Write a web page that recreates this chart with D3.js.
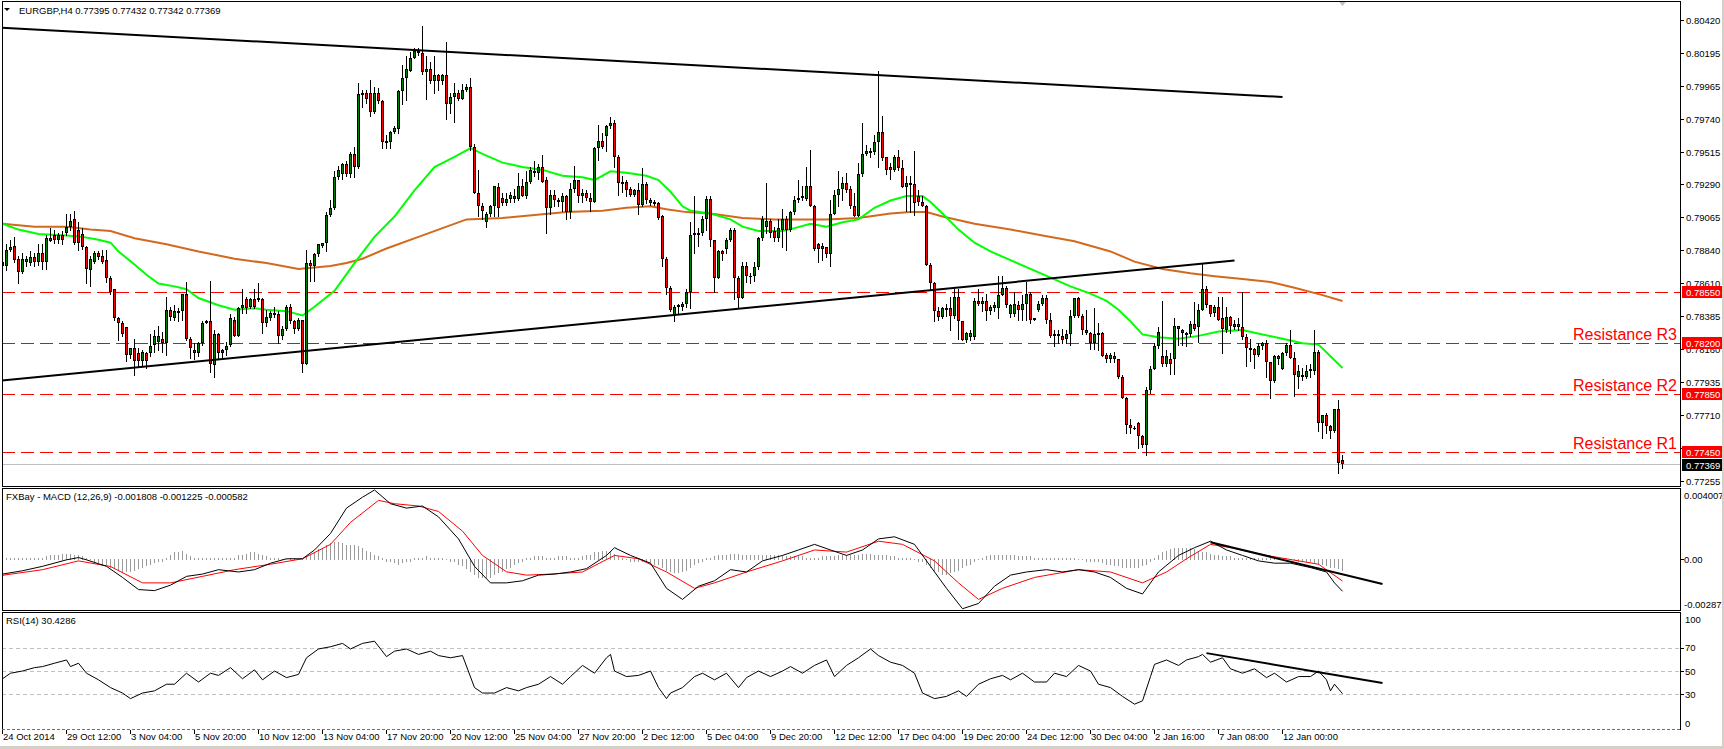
<!DOCTYPE html>
<html><head><meta charset="utf-8">
<script src="https://cdn.jsdelivr.net/npm/d3@7"></script>
<style>
body{margin:0;background:#fff;overflow:hidden}
svg{display:block}
text{font-family:"Liberation Sans",Arial,sans-serif}
</style>
</head><body>
<svg id="chart" width="1724" height="749"></svg>
<script>
// ---------------- DATA ----------------
const symbolTitle = "EURGBP,H4  0.77395 0.77432 0.77342 0.77369";
const macdTitle = "FXBay - MACD (12,26,9) -0.001808 -0.001225 -0.000582";
const rsiTitle = "RSI(14) 30.4286";

// H4 candles [open, high, low, close], bar 0 = 24 Oct 2014
const ohlc = [
[0.7876,0.7884,0.7870,0.7873],[0.7873,0.7888,0.7870,0.7884],[0.7884,0.7891,0.7883,0.7886],[0.7887,0.7893,0.7876,0.7877],
[0.7878,0.7880,0.7861,0.7869],[0.7869,0.7882,0.7868,0.7878],[0.7876,0.7880,0.7873,0.7878],[0.7875,0.7883,0.7874,0.7879],
[0.7879,0.7882,0.7873,0.7876],[0.7876,0.7888,0.7874,0.7882],[0.7882,0.7888,0.7871,0.7876],[0.7876,0.7894,0.7871,0.7892],
[0.7890,0.7899,0.7890,0.7892],[0.7894,0.7898,0.7889,0.7891],[0.7891,0.7896,0.7889,0.7894],[0.7894,0.7897,0.7888,0.7891],
[0.7896,0.7909,0.7894,0.7900],[0.7900,0.7909,0.7898,0.7904],[0.7905,0.7911,0.7888,0.7889],[0.7898,0.7903,0.7884,0.7889],
[0.7895,0.7899,0.7885,0.7886],[0.7886,0.7887,0.7861,0.7871],[0.7870,0.7880,0.7859,0.7878],[0.7876,0.7883,0.7875,0.7882],
[0.7882,0.7883,0.7878,0.7879],[0.7880,0.7884,0.7875,0.7876],[0.7877,0.7884,0.7862,0.7865],[0.7865,0.7866,0.7854,0.7855],
[0.7857,0.7857,0.7836,0.7837],[0.7837,0.7838,0.7822,0.7834],[0.7834,0.7835,0.7825,0.7826],[0.7831,0.7831,0.7808,0.7812],
[0.7812,0.7817,0.7810,0.7817],[0.7817,0.7823,0.7798,0.7808],[0.7813,0.7817,0.7804,0.7808],[0.7808,0.7815,0.7805,0.7814],
[0.7813,0.7814,0.7803,0.7808],[0.7813,0.7826,0.7811,0.7818],[0.7819,0.7829,0.7814,0.7825],[0.7821,0.7832,0.7815,0.7825],
[0.7823,0.7828,0.7814,0.7820],[0.7820,0.7852,0.7812,0.7843],[0.7843,0.7845,0.7836,0.7838],[0.7837,0.7846,0.7836,0.7842],
[0.7841,0.7844,0.7835,0.7842],[0.7842,0.7854,0.7836,0.7854],[0.7854,0.7862,0.7822,0.7823],[0.7823,0.7824,0.7810,0.7817],
[0.7815,0.7820,0.7809,0.7813],[0.7813,0.7821,0.7811,0.7820],[0.7820,0.7835,0.7819,0.7834],[0.7834,0.7836,0.7834,0.7835],
[0.7835,0.7863,0.7800,0.7806],[0.7805,0.7829,0.7797,0.7826],[0.7826,0.7827,0.7810,0.7813],[0.7813,0.7816,0.7810,0.7815],
[0.7815,0.7821,0.7812,0.7818],[0.7819,0.7840,0.7818,0.7837],[0.7836,0.7838,0.7825,0.7825],[0.7825,0.7845,0.7825,0.7844],
[0.7844,0.7857,0.7841,0.7846],[0.7850,0.7852,0.7841,0.7844],[0.7845,0.7851,0.7844,0.7850],[0.7850,0.7857,0.7844,0.7845],
[0.7850,0.7861,0.7849,0.7851],[0.7850,0.7851,0.7827,0.7834],[0.7834,0.7843,0.7832,0.7838],[0.7837,0.7842,0.7836,0.7841],
[0.7840,0.7845,0.7838,0.7841],[0.7840,0.7842,0.7820,0.7825],[0.7825,0.7832,0.7823,0.7830],[0.7830,0.7846,0.7829,0.7845],
[0.7845,0.7847,0.7834,0.7835],[0.7835,0.7836,0.7827,0.7830],[0.7830,0.7837,0.7829,0.7836],[0.7836,0.7836,0.7800,0.7806],
[0.7806,0.7884,0.7806,0.7875],[0.7875,0.7877,0.7863,0.7873],[0.7873,0.7882,0.7863,0.7881],[0.7881,0.7888,0.7880,0.7888],
[0.7887,0.7889,0.7886,0.7889],[0.7889,0.7910,0.7883,0.7908],[0.7908,0.7918,0.7907,0.7913],[0.7913,0.7938,0.7912,0.7934],
[0.7934,0.7942,0.7933,0.7939],[0.7936,0.7944,0.7933,0.7943],[0.7943,0.7945,0.7935,0.7936],[0.7936,0.7951,0.7934,0.7950],
[0.7950,0.7955,0.7934,0.7941],[0.7941,0.7999,0.7940,0.7991],[0.7991,0.7994,0.7982,0.7992],[0.7992,0.7994,0.7985,0.7988],
[0.7992,0.8001,0.7976,0.7979],[0.7979,0.7996,0.7978,0.7992],[0.7992,0.7995,0.7985,0.7986],[0.7986,0.7987,0.7954,0.7958],
[0.7959,0.7963,0.7954,0.7958],[0.7958,0.7966,0.7954,0.7965],[0.7965,0.7969,0.7964,0.7968],[0.7967,0.7994,0.7964,0.7993],
[0.7993,0.8011,0.7984,0.8002],[0.8002,0.8017,0.7987,0.8008],[0.8007,0.8020,0.8007,0.8016],[0.8016,0.8023,0.8016,0.8021],
[0.8019,0.8023,0.8018,0.8021],[0.8019,0.8038,0.8005,0.8006],[0.8006,0.8017,0.7988,0.8008],[0.8008,0.8013,0.7999,0.8000],
[0.8000,0.8017,0.7992,0.8004],[0.8004,0.8005,0.7994,0.8000],[0.8000,0.8005,0.7998,0.8004],[0.8004,0.8027,0.7974,0.7984],
[0.7984,0.7992,0.7978,0.7989],[0.7989,0.7999,0.7972,0.7992],[0.7992,0.7994,0.7987,0.7988],[0.7988,0.7998,0.7988,0.7994],
[0.7994,0.7998,0.7993,0.7996],[0.7996,0.8002,0.7953,0.7955],[0.7955,0.7957,0.7923,0.7923],[0.7923,0.7939,0.7907,0.7914],
[0.7914,0.7916,0.7905,0.7911],[0.7903,0.7910,0.7900,0.7909],[0.7909,0.7915,0.7907,0.7914],[0.7914,0.7928,0.7907,0.7928],
[0.7927,0.7930,0.7907,0.7913],[0.7920,0.7923,0.7915,0.7916],[0.7916,0.7923,0.7915,0.7919],[0.7919,0.7924,0.7917,0.7922],
[0.7921,0.7926,0.7917,0.7919],[0.7919,0.7937,0.7918,0.7928],[0.7928,0.7933,0.7921,0.7921],[0.7921,0.7938,0.7920,0.7931],
[0.7931,0.7941,0.7930,0.7939],[0.7937,0.7945,0.7935,0.7938],[0.7937,0.7943,0.7933,0.7941],[0.7941,0.7949,0.7931,0.7931],
[0.7932,0.7934,0.7896,0.7913],[0.7913,0.7925,0.7909,0.7922],[0.7922,0.7925,0.7914,0.7918],[0.7918,0.7920,0.7914,0.7917],
[0.7917,0.7923,0.7911,0.7921],[0.7921,0.7922,0.7905,0.7910],[0.7910,0.7930,0.7906,0.7926],[0.7926,0.7942,0.7924,0.7932],
[0.7932,0.7932,0.7917,0.7921],[0.7921,0.7926,0.7917,0.7923],[0.7923,0.7925,0.7918,0.7920],[0.7920,0.7923,0.7911,0.7917],
[0.7917,0.7955,0.7917,0.7954],[0.7954,0.7970,0.7946,0.7959],[0.7959,0.7964,0.7954,0.7955],[0.7962,0.7970,0.7952,0.7969],
[0.7969,0.7975,0.7968,0.7971],[0.7971,0.7973,0.7941,0.7948],[0.7948,0.7949,0.7922,0.7930],[0.7931,0.7935,0.7924,0.7930],
[0.7931,0.7932,0.7921,0.7925],[0.7926,0.7927,0.7921,0.7922],[0.7922,0.7926,0.7921,0.7925],[0.7925,0.7930,0.7909,0.7915],
[0.7915,0.7940,0.7914,0.7929],[0.7929,0.7931,0.7916,0.7918],[0.7918,0.7920,0.7915,0.7916],[0.7917,0.7918,0.7915,0.7916],
[0.7916,0.7917,0.7905,0.7906],[0.7907,0.7908,0.7873,0.7878],[0.7878,0.7879,0.7854,0.7858],[0.7858,0.7859,0.7842,0.7843],
[0.7839,0.7846,0.7835,0.7845],[0.7845,0.7847,0.7841,0.7846],[0.7845,0.7848,0.7843,0.7847],[0.7847,0.7857,0.7845,0.7855],
[0.7855,0.7903,0.7844,0.7894],[0.7894,0.7921,0.7882,0.7896],[0.7894,0.7899,0.7887,0.7896],[0.7896,0.7907,0.7894,0.7905],
[0.7905,0.7921,0.7898,0.7919],[0.7919,0.7921,0.7887,0.7891],[0.7891,0.7891,0.7855,0.7865],[0.7865,0.7884,0.7865,0.7883],
[0.7883,0.7884,0.7877,0.7881],[0.7885,0.7892,0.7882,0.7891],[0.7891,0.7899,0.7890,0.7898],[0.7898,0.7899,0.7850,0.7865],
[0.7865,0.7866,0.7844,0.7851],[0.7851,0.7876,0.7851,0.7873],[0.7873,0.7876,0.7862,0.7866],[0.7866,0.7868,0.7861,0.7866],
[0.7866,0.7876,0.7863,0.7872],[0.7872,0.7893,0.7871,0.7892],[0.7892,0.7907,0.7891,0.7905],[0.7900,0.7930,0.7896,0.7904],
[0.7904,0.7905,0.7893,0.7896],[0.7897,0.7900,0.7890,0.7892],[0.7892,0.7905,0.7890,0.7899],[0.7898,0.7912,0.7886,0.7905],
[0.7905,0.7907,0.7884,0.7898],[0.7898,0.7911,0.7897,0.7910],[0.7910,0.7921,0.7909,0.7918],[0.7918,0.7932,0.7917,0.7920],
[0.7920,0.7928,0.7918,0.7921],[0.7919,0.7941,0.7918,0.7928],[0.7928,0.7953,0.7914,0.7914],[0.7914,0.7915,0.7884,0.7885],
[0.7888,0.7889,0.7876,0.7885],[0.7885,0.7889,0.7877,0.7887],[0.7886,0.7886,0.7879,0.7881],[0.7881,0.7918,0.7873,0.7909],
[0.7909,0.7925,0.7909,0.7922],[0.7922,0.7938,0.7914,0.7926],[0.7926,0.7934,0.7918,0.7930],[0.7930,0.7937,0.7924,0.7925],
[0.7926,0.7928,0.7913,0.7914],[0.7914,0.7923,0.7907,0.7907],[0.7907,0.7944,0.7907,0.7936],[0.7936,0.7971,0.7935,0.7950],
[0.7950,0.7956,0.7949,0.7952],[0.7951,0.7954,0.7948,0.7952],[0.7951,0.7963,0.7950,0.7958],[0.7958,0.8007,0.7941,0.7965],
[0.7965,0.7976,0.7946,0.7947],[0.7948,0.7948,0.7936,0.7939],[0.7941,0.7944,0.7933,0.7939],[0.7939,0.7949,0.7938,0.7948],
[0.7948,0.7953,0.7939,0.7940],[0.7940,0.7946,0.7927,0.7927],[0.7927,0.7935,0.7911,0.7930],[0.7930,0.7935,0.7910,0.7929],
[0.7929,0.7952,0.7908,0.7916],[0.7921,0.7925,0.7915,0.7917],[0.7917,0.7921,0.7914,0.7914],[0.7914,0.7915,0.7874,0.7874],
[0.7874,0.7875,0.7857,0.7861],[0.7861,0.7862,0.7835,0.7842],[0.7842,0.7845,0.7836,0.7838],[0.7838,0.7845,0.7837,0.7844],
[0.7843,0.7847,0.7839,0.7844],[0.7844,0.7852,0.7829,0.7839],[0.7839,0.7857,0.7837,0.7852],[0.7852,0.7857,0.7823,0.7835],
[0.7835,0.7835,0.7822,0.7822],[0.7822,0.7828,0.7821,0.7827],[0.7824,0.7829,0.7822,0.7827],[0.7824,0.7851,0.7823,0.7849],
[0.7849,0.7857,0.7846,0.7847],[0.7847,0.7852,0.7842,0.7849],[0.7849,0.7854,0.7836,0.7842],[0.7842,0.7846,0.7840,0.7845],
[0.7844,0.7848,0.7842,0.7846],[0.7844,0.7866,0.7837,0.7853],[0.7853,0.7866,0.7853,0.7858],[0.7858,0.7859,0.7845,0.7846],
[0.7840,0.7847,0.7838,0.7846],[0.7840,0.7855,0.7839,0.7847],[0.7846,0.7849,0.7836,0.7843],[0.7843,0.7853,0.7836,0.7847],
[0.7847,0.7862,0.7836,0.7854],[0.7854,0.7855,0.7834,0.7836],[0.7837,0.7837,0.7836,0.7836],[0.7843,0.7849,0.7842,0.7847],
[0.7847,0.7853,0.7846,0.7851],[0.7851,0.7853,0.7834,0.7836],[0.7836,0.7841,0.7824,0.7825],[0.7826,0.7829,0.7818,0.7825],
[0.7825,0.7829,0.7820,0.7826],[0.7825,0.7830,0.7820,0.7822],[0.7823,0.7829,0.7820,0.7826],[0.7826,0.7843,0.7819,0.7839],
[0.7839,0.7851,0.7838,0.7851],[0.7851,0.7852,0.7838,0.7839],[0.7839,0.7840,0.7826,0.7829],[0.7829,0.7843,0.7826,0.7827],
[0.7827,0.7828,0.7816,0.7820],[0.7820,0.7844,0.7816,0.7826],[0.7826,0.7834,0.7815,0.7827],[0.7827,0.7828,0.7811,0.7811],
[0.7812,0.7813,0.7807,0.7809],[0.7809,0.7813,0.7807,0.7812],[0.7811,0.7814,0.7807,0.7809],[0.7809,0.7809,0.7796,0.7797],
[0.7797,0.7798,0.7782,0.7782],[0.7782,0.7783,0.7758,0.7764],[0.7764,0.7768,0.7758,0.7762],[0.7762,0.7763,0.7761,0.7762],
[0.7765,0.7766,0.7748,0.7756],[0.7756,0.7757,0.7749,0.7750],[0.7750,0.7790,0.7743,0.7788],[0.7788,0.7804,0.7786,0.7802],
[0.7802,0.7820,0.7802,0.7818],[0.7818,0.7831,0.7817,0.7828],[0.7811,0.7849,0.7804,0.7806],[0.7806,0.7815,0.7804,0.7811],
[0.7809,0.7813,0.7799,0.7806],[0.7809,0.7837,0.7799,0.7832],[0.7832,0.7832,0.7819,0.7830],[0.7829,0.7830,0.7819,0.7827],
[0.7827,0.7828,0.7818,0.7826],[0.7826,0.7835,0.7825,0.7833],[0.7833,0.7848,0.7829,0.7830],[0.7831,0.7847,0.7821,0.7843],
[0.7843,0.7875,0.7843,0.7857],[0.7857,0.7859,0.7845,0.7846],[0.7846,0.7846,0.7839,0.7840],[0.7841,0.7846,0.7839,0.7845],
[0.7845,0.7852,0.7836,0.7836],[0.7837,0.7852,0.7813,0.7830],[0.7829,0.7845,0.7828,0.7838],[0.7838,0.7839,0.7827,0.7832],
[0.7833,0.7836,0.7830,0.7831],[0.7833,0.7837,0.7829,0.7831],[0.7831,0.7855,0.7823,0.7824],[0.7824,0.7826,0.7804,0.7817],
[0.7817,0.7823,0.7808,0.7816],[0.7816,0.7817,0.7803,0.7812],[0.7812,0.7820,0.7811,0.7818],[0.7818,0.7821,0.7816,0.7820],
[0.7820,0.7822,0.7797,0.7807],[0.7807,0.7807,0.7782,0.7794],[0.7794,0.7812,0.7793,0.7811],[0.7809,0.7812,0.7806,0.7811],
[0.7802,0.7814,0.7802,0.7813],[0.7813,0.7820,0.7812,0.7819],[0.7819,0.7829,0.7810,0.7810],[0.7810,0.7814,0.7784,0.7798],
[0.7797,0.7805,0.7789,0.7801],[0.7798,0.7803,0.7795,0.7797],[0.7797,0.7805,0.7796,0.7801],[0.7801,0.7806,0.7797,0.7802],
[0.7801,0.7829,0.7799,0.7814],[0.7814,0.7815,0.7760,0.7765],[0.7765,0.7771,0.7755,0.7771],[0.7771,0.7772,0.7758,0.7763],
[0.7763,0.7764,0.7755,0.7760],[0.7760,0.7775,0.7759,0.7775],[0.7775,0.7781,0.7731,0.7738],[0.77395,0.77432,0.77342,0.77369]
];

// moving averages: [bar, value]
const maFast = [[0,0.7902],[4,0.7898],[9,0.7895],[16,0.7894],[20,0.7893],[24,0.7891],[27,0.7889],[29,0.7883],[33,0.7874],[36,0.7867],[39,0.7861],[43,0.7859],[46,0.7857],[49,0.7851],[54,0.7846],[58,0.7843],[63,0.7844],[66,0.7843],[71,0.7842],[75,0.7839],[78,0.7845],[83,0.7856],[88,0.7875],[93,0.7893],[98,0.7907],[103,0.7925],[108,0.7941],[113,0.7948],[117,0.7954],[120,0.7950],[125,0.7944],[130,0.7941],[135,0.7939],[140,0.7935],[145,0.7934],[148,0.7932],[152,0.7938],[156,0.7937],[161,0.7935],[164,0.7932],[167,0.7924],[170,0.7914],[172,0.7911],[177,0.7909],[182,0.7905],[185,0.7900],[189,0.7897],[195,0.7897],[198,0.7899],[202,0.7902],[206,0.7900],[210,0.7903],[214,0.7905],[218,0.7913],[222,0.7918],[226,0.7921],[230,0.7921],[232,0.7917],[235,0.7909],[239,0.7898],[243,0.7889],[247,0.7883],[252,0.7877],[257,0.7871],[262,0.7865],[267,0.7859],[272,0.7854],[276,0.7849],[279,0.7843],[282,0.7835],[285,0.7826],[289,0.7824],[294,0.7823],[299,0.7825],[304,0.7828],[310,0.7829],[315,0.7826],[320,0.7823],[325,0.7820],[329,0.7819],[332,0.7811],[335,0.7803]];
const maSlow = [[0,0.7902],[8,0.7900],[16,0.7900],[22,0.7898],[27,0.7897],[33,0.7892],[41,0.7888],[49,0.7883],[58,0.7878],[66,0.7875],[74,0.7871],[78,0.7872],[82,0.7873],[86,0.7875],[90,0.7878],[96,0.7885],[104,0.7893],[110,0.7899],[116,0.7905],[125,0.7906],[133,0.7908],[141,0.7910],[150,0.7911],[156,0.7913],[162,0.7914],[166,0.7912],[171,0.7910],[177,0.7909],[185,0.7906],[193,0.7905],[201,0.7905],[206,0.7905],[214,0.7906],[222,0.7909],[227,0.7910],[231,0.7910],[235,0.7907],[243,0.7902],[252,0.7898],[260,0.7894],[268,0.7890],[277,0.7883],[283,0.7876],[290,0.7871],[297,0.7868],[303,0.7866],[310,0.7864],[317,0.7862],[323,0.7858],[330,0.7853],[335,0.7849]];

const upperTrend = [[-0.6,0.80367],[320,0.79891]];
const lowerTrend = [[-0.6,0.77943],[308,0.78767]];

const levelPrices = [0.78550, 0.78200, 0.77850, 0.77450];
const levelNames  = ["", "Resistance R3", "Resistance R2", "Resistance R1"];
const lastPrice = 0.77369;

const priceTicks = [0.80420,0.80195,0.79965,0.79740,0.79515,0.79290,0.79065,0.78840,0.78610,0.78385,0.78160,0.77935,0.77710,0.77480,0.77255];
const timeLabels = ["24 Oct 2014","29 Oct 12:00","3 Nov 04:00","5 Nov 20:00","10 Nov 12:00","13 Nov 04:00","17 Nov 20:00","20 Nov 12:00","25 Nov 04:00","27 Nov 20:00","2 Dec 12:00","5 Dec 04:00","9 Dec 20:00","12 Dec 12:00","17 Dec 04:00","19 Dec 20:00","24 Dec 12:00","30 Dec 04:00","2 Jan 16:00","7 Jan 08:00","12 Jan 00:00"];
const barsPerLabel = 16;

// MACD (12,26,9)
const macdLine = [[0,-0.00083],[5,-0.00064],[10,-0.00039],[16,-0.00002],[19,0.00011],[21,-0.00002],[26,-0.00039],[30,-0.00102],[34,-0.00171],[38,-0.00177],[42,-0.00146],[46,-0.00096],[50,-0.00083],[54,-0.00058],[59,-0.00071],[63,-0.00058],[67,-0.00021],[71,0.00004],[75,0.00004],[78,0.00054],[82,0.00148],[86,0.00292],[90,0.00354],[93,0.00395],[97,0.00317],[101,0.00292],[105,0.00304],[109,0.00242],[114,0.00117],[118,-0.00039],[122,-0.00133],[126,-0.00133],[130,-0.00121],[134,-0.00089],[138,-0.00083],[142,-0.00071],[146,-0.00052],[151,0.00023],[153,0.00067],[157,0.00023],[162,-0.00021],[166,-0.00164],[170,-0.00227],[174,-0.00152],[178,-0.00121],[182,-0.00058],[186,-0.00071],[190,-0.00008],[195,0.00023],[199,0.00054],[203,0.00086],[207,0.00054],[211,0.00023],[215,0.00054],[219,0.00117],[223,0.00129],[228,0.00086],[232,-0.00039],[236,-0.00164],[240,-0.00280],[244,-0.00250],[248,-0.00152],[252,-0.00089],[256,-0.00071],[261,-0.00058],[265,-0.00071],[269,-0.00058],[273,-0.00071],[277,-0.00102],[281,-0.00164],[285,-0.00196],[289,-0.00071],[294,0.00023],[298,0.00067],[302,0.00104],[306,0.00054],[310,0.00023],[314,-0.00008],[318,-0.00021],[322,-0.00021],[327,-0.00046],[331,-0.00071],[333,-0.00133],[335,-0.001808]];
const signalLine = [[0,-0.00090],[10,-0.00058],[19,-0.00008],[27,-0.00040],[35,-0.00133],[42,-0.00133],[50,-0.00096],[58,-0.00058],[67,-0.00027],[75,0.00004],[82,0.00086],[87,0.00211],[94,0.00336],[98,0.00317],[104,0.00304],[109,0.00273],[115,0.00161],[120,0.00023],[126,-0.00070],[131,-0.00089],[137,-0.00083],[145,-0.00071],[153,0.00023],[159,0.00004],[166,-0.00071],[173,-0.00164],[178,-0.00133],[186,-0.00071],[195,-0.00008],[203,0.00054],[211,0.00042],[219,0.00104],[225,0.00086],[233,-0.00008],[239,-0.00133],[244,-0.00227],[250,-0.00164],[258,-0.00102],[269,-0.00058],[277,-0.00071],[285,-0.00133],[291,-0.00071],[296,0.00004],[302,0.00086],[307,0.00067],[316,0.00023],[324,-0.00008],[329,-0.00027],[335,-0.001225]];
const macdHist = [
0.00006,0.00006,0.00006,0.00006,0.00006,0.00006,0.00006,0.00006,0.00006,0.00011,0.00011,
0.00017,0.00023,0.00028,0.00028,0.00034,0.00034,0.00034,0.00028,0.00023,0.00017,
0.00006,0,-0.00006,
-0.00017,-0.00023,-0.00028,-0.0004,-0.00045,-0.00057,-0.00063,-0.00063,-0.00063,-0.00057,-0.00051,-0.00045,-0.00034,-0.00028,-0.00017,-0.00011,
-0.00006,0.00006,
0.00023,0.0004,0.00045,0.00051,0.00034,
0.00017,0.00011,0.00011,0.00006,0.00006,0.00006,0.00006,0.00011,0.00011,0.00006,0.00006,0.00011,
0.00023,0.00028,0.00034,0.0004,0.0004,0.00034,0.00028,0.00017,
0.00011,0.00006,0.00006,0,0,0.00006,0.00006,0,0,
0.00017,0.00028,0.00045,0.00057,0.00068,0.0008,0.00091,0.00097,0.00097,0.00091,0.00085,0.00085,0.0008,0.00074,0.00063,0.00051,0.0004,0.00028,0.00017,0.00006,
-0.00006,-0.00011,-0.00017,-0.00023,-0.00017,-0.00011,-0.00006,
0.00006,0.00011,0.00011,0.00017,0.00011,0.00011,0.00006,0.00006,0,-0.00006,-0.00011,-0.00023,-0.00034,
-0.00051,-0.00068,-0.00085,-0.00097,-0.00102,-0.00102,-0.00097,-0.00085,-0.00074,-0.00063,-0.00051,-0.0004,-0.00028,-0.00017,-0.00006,
0.00006,0.00011,0.00017,0.00017,0.00017,0.00011,0.00011,0.00011,0.00017,0.00017,0.00017,0.00011,0.00011,0.00011,0.00017,0.00023,0.00028,
0.0004,0.00045,0.00051,0.00051,0.00045,0.00034,0.00017,0.00006,
0,-0.00006,-0.00006,-0.00011,-0.00011,-0.00011,-0.00017,-0.00023,-0.00028,-0.0004,
-0.00057,-0.00068,-0.00074,-0.00074,-0.00068,-0.00057,-0.0004,-0.00028,-0.00017,-0.00006,0.00006,
0.00011,0.00017,0.00023,0.00028,0.00028,0.00034,0.00034,0.00034,0.00028,0.00028,0.00023,0.00023,0.00023,0.00028,0.00028,0.00028,
0.00023,0.00023,0.00023,0.00017,0.00017,0.00017,0.00017,0.00017,0.00011,0.00011,0.00011,0.00011,0.00017,0.00017,0.00017,0.00017,
0.00023,0.00023,0.00028,0.00028,0.00028,0.00028,0.00034,0.00034,0.00034,0.00028,0.00028,0.00023,0.00023,0.00017,0.00017,0.00011,0.00011,0.00006,0.00006,0,-0.00006,-0.00011,-0.00023,
-0.0004,-0.00057,-0.00068,-0.0008,-0.0008,-0.00074,-0.00068,-0.00057,-0.00045,-0.00034,-0.00023,
-0.00011,0,0.00011,0.00017,0.00023,0.00023,0.00028,0.00028,0.00023,0.00023,0.00023,0.00017,0.00017,0.00017,0.00017,0.00011,0.00011,0.00011,0.00011,0.00011,0.00006,0.00006,0.00006,0.00006,0.00006,0.00006,0,0,-0.00006,-0.00006,-0.00011,-0.00011,-0.00017,
-0.00023,-0.00028,-0.00034,-0.00034,-0.0004,-0.00045,-0.00045,-0.00045,-0.0004,-0.00034,-0.00023,
-0.00006,0.00011,0.00028,0.0004,0.00051,0.00057,0.00063,0.00068,0.00068,0.00068,0.00063,0.00057,0.00051,0.00045,0.0004,0.00034,0.00028,0.00023,0.00017,
0.00017,0.00017,0.00011,0.00011,0.00011,0.00011,0.00011,0.00006,0.00006,0.00006,0.00006,0.00006,0.00006,0.00006,0,0,0,0,-0.00006,-0.00006,-0.00011,-0.00011,-0.00017,-0.00023,-0.00028,-0.00034,-0.0004,-0.00045,-0.00051,-0.00057
];
const macdTrend = [[302,0.00098],[345,-0.00139]];
const macdTicks = [{v:0.004007,t:"0.004007"},{v:0,t:"0.00"},{v:-0.002872,t:"-0.002872"}];

// RSI(14)
const rsiLine = [[0,43.3],[2,48.1],[5,50],[8,52.9],[10,53.8],[13,56.7],[16,59.5],[17,53.8],[19,56.7],[21,48.1],[24,42.4],[27,35.7],[30,31],[32,26.2],[35,31],[38,32.9],[41,38.6],[43,38.6],[46,48.1],[49,40.5],[52,48.1],[54,46.2],[57,52.9],[60,43.3],[63,51],[65,42.4],[68,50],[71,44.3],[74,47.1],[76,61.4],[79,69],[82,70.9],[85,73.8],[87,69],[90,73.8],[93,75.7],[96,62.4],[98,67.1],[101,69],[104,64.3],[107,67.1],[109,63.3],[112,61.4],[115,63.3],[118,35.7],[120,31],[123,31],[126,35.7],[129,32.9],[131,35.7],[134,38.6],[137,45.2],[140,38.6],[142,45.2],[145,54.8],[148,48.1],[151,61.4],[152,64.3],[153,50],[156,45.2],[159,46.2],[162,50],[164,35.7],[166,26.2],[167,31],[170,35.7],[173,45.2],[175,48.1],[178,42.4],[181,48.1],[184,35.7],[186,44.3],[189,50],[192,45.2],[195,50],[197,53.8],[200,48.1],[203,54.8],[206,59.5],[208,45.2],[211,54.8],[214,61.4],[217,69],[219,63.3],[222,57.6],[225,54.8],[228,48.1],[230,31],[233,26.2],[236,28.1],[239,32.9],[241,28.1],[244,38.6],[247,43.3],[250,46.2],[252,42.4],[255,48.1],[258,40.5],[261,40.5],[263,48.1],[266,45.2],[269,54.8],[272,50],[274,38.6],[277,35.7],[280,28.1],[283,21.4],[285,24.3],[287,45.2],[288,55.7],[291,59.5],[294,54.8],[296,59.5],[299,62.4],[300,64.3],[302,57.6],[305,61.4],[307,51.9],[310,48.1],[313,51.9],[316,44.3],[318,48.1],[321,40.5],[324,45.2],[327,45.2],[329,50],[331,42.4],[332,32.9],[333,38.6],[335,30.43]];
const rsiTrend = [[301,65.4],[345,39.7]];
const rsiLevels = [70,50,30];
const rsiTicks = [{v:100,t:"100",dy:6},{v:70,t:"70",dy:0},{v:50,t:"50",dy:0},{v:30,t:"30",dy:0},{v:0,t:"0",dy:-6}];

// ---------------- DRAWING ----------------
const svg = d3.select("#chart");
svg.append("rect").attr("width",1724).attr("height",749).attr("fill","#fff");

const plotLeft = 2, plotRight = 1681;
const mainTop = 1, mainBottom = 486;
const macdTop = 489, macdBottom = 610;
const rsiTop = 613, rsiBottom = 729;

const x = d3.scaleLinear().domain([0,1]).range([2.5,6.5]);
const y = d3.scaleLinear().domain([0.77219,0.80550]).range([mainBottom,mainTop]);
const yM = d3.scaleLinear().domain([-0.002872,0.004007]).range([macdBottom,macdTop]);
const yR = d3.scaleLinear().domain([0,100]).range([rsiBottom,rsiTop]);
const snap = v => Math.round(v)+0.5;

// clip paths
const defs = svg.append("defs");
[["cMain",mainTop,mainBottom],["cMacd",macdTop,macdBottom],["cRsi",rsiTop,rsiBottom]].forEach(([id,t,b])=>{
  defs.append("clipPath").attr("id",id).append("rect").attr("x",plotLeft).attr("y",t).attr("width",plotRight-plotLeft).attr("height",b-t);
});

// ===== main panel =====
const gMain = svg.append("g").attr("clip-path","url(#cMain)");

// current price line
gMain.append("line").attr("x1",plotLeft).attr("x2",plotRight)
  .attr("y1",snap(y(lastPrice))).attr("y2",snap(y(lastPrice))).attr("stroke","#c0c0c0");

// level lines
levelPrices.forEach(p=>{
  gMain.append("line").attr("x1",plotLeft).attr("x2",plotRight)
    .attr("y1",snap(y(p))).attr("y2",snap(y(p)))
    .attr("stroke","#ff0000").attr("stroke-dasharray","13,6").attr("shape-rendering","crispEdges");
});

// moving averages
const lineP = d3.line().x(d=>x(d[0])).y(d=>y(d[1]));
gMain.append("path").attr("d",lineP(maSlow)).attr("fill","none").attr("stroke","#d2691e").attr("stroke-width",2);
gMain.append("path").attr("d",lineP(maFast)).attr("fill","none").attr("stroke","#00ff00").attr("stroke-width",2);

// candles
const gC = gMain.append("g").attr("shape-rendering","crispEdges");
ohlc.forEach((d,i)=>{
  const [o,h,l,c] = d;
  const cx = x(i);
  gC.append("line").attr("x1",cx).attr("x2",cx).attr("y1",Math.round(y(h))).attr("y2",Math.round(y(l))+1).attr("stroke","#000");
  const yt = Math.round(y(Math.max(o,c))), yb = Math.round(y(Math.min(o,c)));
  if (yb - yt >= 2) {
    gC.append("rect").attr("x",cx-1).attr("y",yt+0.5).attr("width",2).attr("height",yb-yt-1)
      .attr("fill", c>=o ? "#008000" : "#ff0000").attr("stroke","#000");
  } else {
    gC.append("line").attr("x1",cx-1.5).attr("x2",cx+1.5).attr("y1",yt+0.5).attr("y2",yt+0.5).attr("stroke","#000");
    if (yb>yt) gC.append("line").attr("x1",cx-1.5).attr("x2",cx+1.5).attr("y1",yb+0.5).attr("y2",yb+0.5).attr("stroke","#000");
  }
});

// trend lines
[upperTrend, lowerTrend].forEach(t=>{
  gMain.append("path").attr("d",lineP(t)).attr("fill","none").attr("stroke","#000").attr("stroke-width",2);
});

// level names
levelPrices.forEach((p,k)=>{
  if(!levelNames[k]) return;
  svg.append("text").attr("x",1677).attr("y",y(p)-3).attr("text-anchor","end")
    .attr("font-size",16).attr("fill","#ff0000").text(levelNames[k]);
});

// title
svg.append("path").attr("d","M4,8 L10,8 L7,11 Z").attr("fill","#000");
svg.append("text").attr("x",19).attr("y",13.5).attr("font-size",9.5).attr("fill","#000").text(symbolTitle);
// chart-shift marker
svg.append("path").attr("d",`M${x(335)-4},1 L${x(335)+4},1 L${x(335)},6 Z`).attr("fill","#c0c0c0");

// ===== MACD panel =====
const gMacd = svg.append("g").attr("clip-path","url(#cMacd)");
const gH = gMacd.append("g").attr("shape-rendering","crispEdges");
macdHist.forEach((v,i)=>{
  const y0 = Math.round(yM(0)), y1 = Math.round(yM(v));
  gH.append("line").attr("x1",x(i)).attr("x2",x(i))
    .attr("y1",Math.min(y0,y1)).attr("y2",Math.max(y0,y1)+1).attr("stroke","#9a9a9a");
});
const lineM = d3.line().x(d=>x(d[0])).y(d=>yM(d[1]));
gMacd.append("path").attr("d",lineM(signalLine)).attr("fill","none").attr("stroke","#ff0000").attr("stroke-width",1);
gMacd.append("path").attr("d",lineM(macdLine)).attr("fill","none").attr("stroke","#000").attr("stroke-width",1);
gMacd.append("path").attr("d",lineM(macdTrend)).attr("fill","none").attr("stroke","#000").attr("stroke-width",2);
svg.append("text").attr("x",6).attr("y",500).attr("font-size",9.5).attr("fill","#000").text(macdTitle);

// ===== RSI panel =====
const gRsi = svg.append("g").attr("clip-path","url(#cRsi)");
rsiLevels.forEach(v=>{
  gRsi.append("line").attr("x1",plotLeft).attr("x2",plotRight).attr("y1",snap(yR(v))).attr("y2",snap(yR(v)))
    .attr("stroke","#c0c0c0").attr("stroke-dasharray","4,3").attr("shape-rendering","crispEdges");
});
const lineR = d3.line().x(d=>x(d[0])).y(d=>yR(d[1]));
gRsi.append("path").attr("d",lineR(rsiLine)).attr("fill","none").attr("stroke","#000").attr("stroke-width",1);
gRsi.append("path").attr("d",lineR(rsiTrend)).attr("fill","none").attr("stroke","#000").attr("stroke-width",2);
svg.append("text").attr("x",6).attr("y",624).attr("font-size",9.5).attr("fill","#000").text(rsiTitle);

// ===== frames =====
const fr = svg.append("g").attr("fill","none").attr("stroke","#000").attr("shape-rendering","crispEdges");
fr.append("rect").attr("x",plotLeft+0.5).attr("y",mainTop+0.5).attr("width",plotRight-plotLeft-1).attr("height",mainBottom-mainTop);
fr.append("rect").attr("x",plotLeft+0.5).attr("y",macdTop-0.5).attr("width",plotRight-plotLeft-1).attr("height",macdBottom-macdTop+1);
fr.append("path").attr("d",`M${plotLeft+0.5},${rsiBottom+0.5} V${rsiTop-0.5} H${plotRight-0.5} V${rsiBottom+0.5}`);
svg.append("line").attr("x1",plotLeft).attr("x2",plotRight).attr("y1",rsiBottom+0.5).attr("y2",rsiBottom+0.5)
  .attr("stroke","#707070").attr("stroke-dasharray","3,2").attr("shape-rendering","crispEdges");

// ===== right axes =====
const ax = svg.append("g");
priceTicks.forEach(p=>{
  const yy = snap(y(p));
  ax.append("line").attr("x1",plotRight).attr("x2",plotRight+3).attr("y1",yy).attr("y2",yy).attr("stroke","#000").attr("shape-rendering","crispEdges");
  ax.append("text").attr("x",plotRight+5).attr("y",yy+3.5).attr("font-size",9.5).attr("fill","#000").text(p.toFixed(5));
});
levelPrices.forEach(p=>{
  const yy = y(p);
  ax.append("rect").attr("x",plotRight+1).attr("y",Math.round(yy)-6).attr("width",41).attr("height",12).attr("fill","#ff0000");
  ax.append("text").attr("x",plotRight+5).attr("y",Math.round(yy)+3.5).attr("font-size",9.5).attr("fill","#fff").text(p.toFixed(5));
});
{
  const yy = Math.round(y(lastPrice))+1;
  ax.append("rect").attr("x",plotRight+1).attr("y",yy-6).attr("width",41).attr("height",12).attr("fill","#000");
  ax.append("text").attr("x",plotRight+5).attr("y",yy+3.5).attr("font-size",9.5).attr("fill","#fff").text(lastPrice.toFixed(5));
}
macdTicks.forEach((t,k)=>{
  let yy = yM(t.v);
  if(k===0) yy += 6; if(k===2) yy -= 6;
  if(k===1) ax.append("line").attr("x1",plotRight).attr("x2",plotRight+3).attr("y1",snap(yM(0))).attr("y2",snap(yM(0))).attr("stroke","#000");
  ax.append("text").attr("x",plotRight+3).attr("y",yy+3.5).attr("font-size",9.5).attr("fill","#000").text(t.t);
});
rsiTicks.forEach(t=>{
  const yy = yR(t.v)+t.dy;
  if(t.dy===0) ax.append("line").attr("x1",plotRight).attr("x2",plotRight+3).attr("y1",snap(yR(t.v))).attr("y2",snap(yR(t.v))).attr("stroke","#000");
  ax.append("text").attr("x",plotRight+4).attr("y",yy+3.5).attr("font-size",9.5).attr("fill","#000").text(t.t);
});

// ===== time axis =====
timeLabels.forEach((t,k)=>{
  const xx = x(k*barsPerLabel);
  ax.append("line").attr("x1",xx).attr("x2",xx).attr("y1",rsiBottom+1).attr("y2",rsiBottom+5).attr("stroke","#000").attr("shape-rendering","crispEdges");
  ax.append("text").attr("x",xx+0.5).attr("y",740).attr("font-size",9.5).attr("fill","#000").text(t);
});

// window edges
svg.append("rect").attr("x",1722).attr("y",0).attr("width",2).attr("height",749).attr("fill","#d4d0c8");
svg.append("rect").attr("x",0).attr("y",746).attr("width",1724).attr("height",3).attr("fill","#d4d0c8");
</script>
</body></html>
